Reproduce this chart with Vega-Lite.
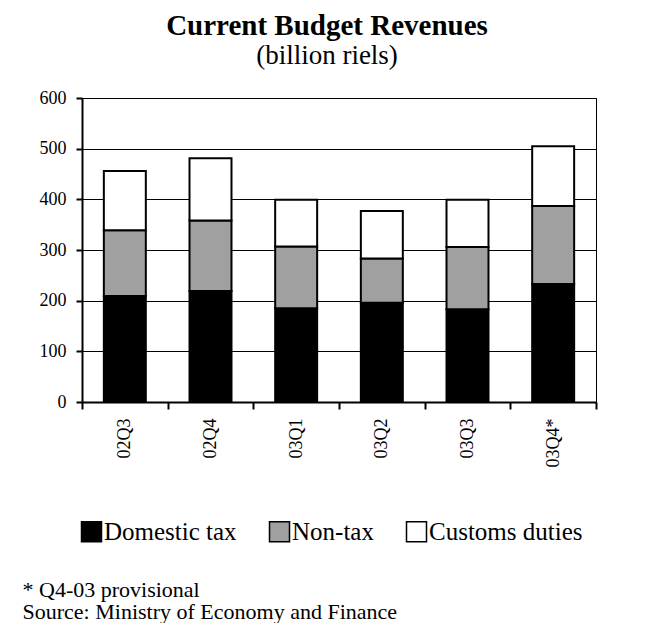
{
  "$schema": "https://vega.github.io/schema/vega-lite/v6.json",
  "autosize": {"type": "none"},
  "width": 514,
  "height": 304,
  "padding": {"left": 82, "top": 98, "right": 51, "bottom": 221},
  "background": "white",
  "title": {
    "text": "Current Budget Revenues",
    "subtitle": "(billion riels)",
    "font": "Liberation Serif",
    "fontSize": 29,
    "fontWeight": "bold",
    "color": "black",
    "subtitleFont": "Liberation Serif",
    "subtitleFontSize": 27,
    "subtitleColor": "black",
    "subtitlePadding": 2,
    "anchor": "middle",
    "dx": -12,
    "offset": 20
  },
  "data": {
    "values": [
      {"q": "02Q3", "type": "Domestic tax", "v": 209},
      {"q": "02Q3", "type": "Non-tax", "v": 130},
      {"q": "02Q3", "type": "Customs duties", "v": 117},
      {"q": "02Q4", "type": "Domestic tax", "v": 219},
      {"q": "02Q4", "type": "Non-tax", "v": 139},
      {"q": "02Q4", "type": "Customs duties", "v": 123},
      {"q": "03Q1", "type": "Domestic tax", "v": 185},
      {"q": "03Q1", "type": "Non-tax", "v": 122},
      {"q": "03Q1", "type": "Customs duties", "v": 92},
      {"q": "03Q2", "type": "Domestic tax", "v": 196},
      {"q": "03Q2", "type": "Non-tax", "v": 87},
      {"q": "03Q2", "type": "Customs duties", "v": 94},
      {"q": "03Q3", "type": "Domestic tax", "v": 183},
      {"q": "03Q3", "type": "Non-tax", "v": 123},
      {"q": "03Q3", "type": "Customs duties", "v": 93},
      {"q": "03Q4*", "type": "Domestic tax", "v": 233},
      {"q": "03Q4*", "type": "Non-tax", "v": 154},
      {"q": "03Q4*", "type": "Customs duties", "v": 118}
    ]
  },
  "transform": [
    {"calculate": "indexof(['Domestic tax', 'Non-tax', 'Customs duties'], datum.type)", "as": "stackRank"}
  ],
  "mark": {"type": "bar", "stroke": "black", "strokeWidth": 2, "width": {"band": 0.49}},
  "encoding": {
    "x": {
      "field": "q",
      "type": "nominal",
      "sort": null,
      "scale": {"paddingInner": 0, "paddingOuter": 0},
      "axis": {
        "title": ["* Q4-03 provisional", "Source: Ministry of Economy and Finance"],
        "titleFont": "Liberation Serif",
        "titleFontSize": 22,
        "titleFontWeight": "normal",
        "titleColor": "black",
        "titleAnchor": "start",
        "titleAlign": "left",
        "titleBaseline": "alphabetic",
        "titleLineHeight": 22.5,
        "titleX": -60,
        "titleY": 194,
        "labelAngle": 270,
        "labelFont": "Liberation Serif",
        "labelFontSize": 18,
        "labelColor": "black",
        "labelPadding": 9,
        "tickBand": "extent",
        "tickSize": 7,
        "tickWidth": 2,
        "tickColor": "black",
        "domainColor": "black",
        "domainWidth": 2
      }
    },
    "y": {
      "field": "v",
      "type": "quantitative",
      "stack": "zero",
      "scale": {"domain": [0, 600]},
      "axis": {
        "title": null,
        "values": [0, 100, 200, 300, 400, 500, 600],
        "labelFont": "Liberation Serif",
        "labelFontSize": 18,
        "labelColor": "black",
        "labelPadding": 10,
        "tickSize": 6,
        "tickWidth": 2,
        "tickColor": "black",
        "domainColor": "black",
        "domainWidth": 2,
        "grid": true,
        "gridColor": "black",
        "gridWidth": 1
      }
    },
    "order": {"field": "stackRank", "type": "quantitative", "sort": "ascending"},
    "color": {
      "field": "type",
      "type": "nominal",
      "sort": ["Domestic tax", "Non-tax", "Customs duties"],
      "scale": {
        "domain": ["Domestic tax", "Non-tax", "Customs duties"],
        "range": ["#000000", "#a0a0a0", "#ffffff"]
      },
      "legend": {
        "title": null,
        "orient": "none",
        "direction": "horizontal",
        "legendX": -3,
        "legendY": 421,
        "symbolType": "square",
        "symbolSize": 400,
        "symbolStrokeColor": "black",
        "symbolStrokeWidth": 1.5,
        "symbolOpacity": 1,
        "labelFont": "Liberation Serif",
        "labelFontSize": 25,
        "labelColor": "black",
        "labelOffset": 0,
        "columnPadding": 29
      }
    }
  },
  "config": {
    "view": {"stroke": "black", "strokeWidth": 1}
  }
}
